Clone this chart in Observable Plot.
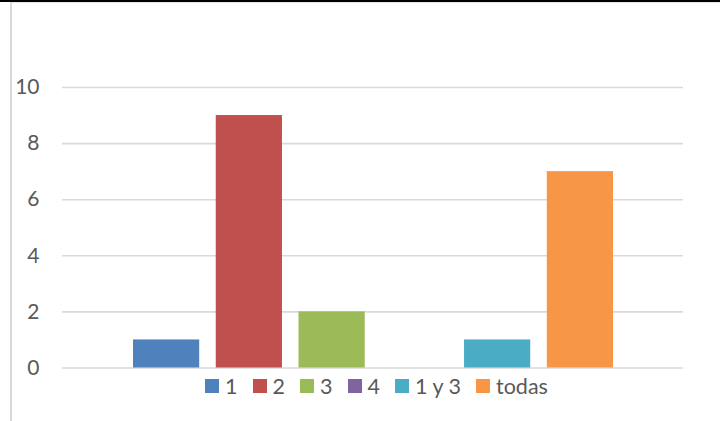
<!DOCTYPE html>
<html>
<head>
<meta charset="utf-8">
<script src="https://cdn.jsdelivr.net/npm/d3@7"></script>
<script src="https://cdn.jsdelivr.net/npm/@observablehq/plot@0.6"></script>
<style>
  html, body { margin: 0; padding: 0; background: #fff; }
  #wrap { position: relative; width: 720px; height: 421px; overflow: hidden; font-family: Lato, "Open Sans", sans-serif; }
  #topline { position: absolute; left: 0; top: 0; width: 720px; height: 2px; background: #000; }
  #topgray { position: absolute; left: 12px; top: 2px; width: 708px; height: 1px; background: #e6e6e6; }
  #leftline { position: absolute; left: 10px; top: 2px; width: 2px; height: 419px; background: #d9d9d9; }
  #chart svg { display: block; }
  #legend { display: flex; justify-content: center; align-items: center; box-sizing: border-box; width: 720px; padding-left: 33px; margin-top: -15px; height: 24px; color: #595959; font-size: 21.5px; line-height: 24px; }
  .item { display: flex; align-items: center; margin-right: 15px; }
  .item:last-child { margin-right: 0; }
  .sw { width: 14px; height: 14px; margin-right: 6px; }
</style>
</head>
<body>
<div id="wrap">
  <div id="chart"></div>
  <div id="legend"></div>
  <div id="topline"></div>
  <div id="topgray"></div>
  <div id="leftline"></div>
</div>
<script>
const series = ["1", "2", "3", "4", "1 y 3", "todas"];
const values = [1, 9, 2, 0, 1, 7];
const colors = ["#4f81bd", "#c0504d", "#9bbb59", "#8064a2", "#4bacc6", "#f79646"];
const yTicks = [0, 2, 4, 6, 8, 10];

const data = series.map((s, i) => ({serie: s, value: values[i]}));

const chart = Plot.plot({
  width: 720,
  height: 389,
  marginTop: 87,
  marginBottom: 21.5,
  marginLeft: 62,
  marginRight: 37,
  style: {fontFamily: "Lato, 'Open Sans', sans-serif", fontSize: "21px", color: "#595959", background: "transparent", overflow: "visible"},
  x: {domain: series, range: [133, 613], paddingInner: 0.2, paddingOuter: 0, round: false, axis: null},
  y: {domain: [0, 10], ticks: yTicks, tickSize: 0, tickPadding: 23, label: null, tickFormat: d => String(d)},
  color: {domain: series, range: colors},
  marks: [
    Plot.gridY(yTicks, {stroke: "#d9d9d9", strokeOpacity: 1, strokeWidth: 1.6}),
    Plot.barY(data, {x: "serie", y: "value", fill: "serie"})
  ]
});
document.getElementById("chart").appendChild(chart);

const legend = document.getElementById("legend");
series.forEach((s, i) => {
  const it = document.createElement("div");
  it.className = "item";
  const sw = document.createElement("div");
  sw.className = "sw";
  sw.style.background = colors[i];
  const lb = document.createElement("span");
  lb.textContent = s;
  it.appendChild(sw);
  it.appendChild(lb);
  legend.appendChild(it);
});
</script>
</body>
</html>
